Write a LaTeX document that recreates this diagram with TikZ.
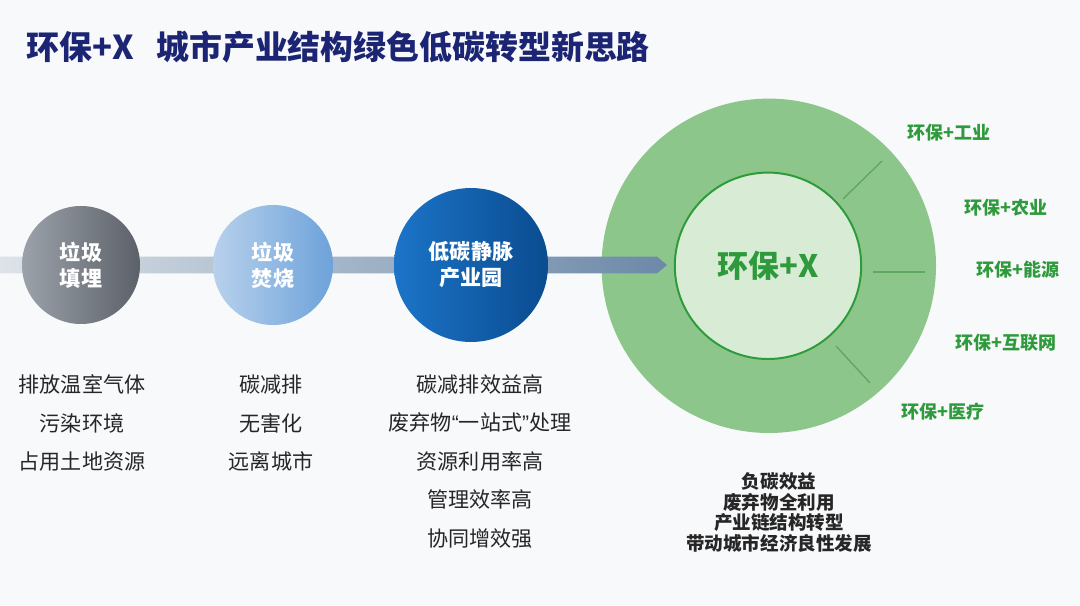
\documentclass[tikz,border=0pt]{standalone}
\usepackage{fontspec}
\setmainfont{Noto Sans CJK SC}
\newfontfamily\quotefont{Liberation Sans}
\usetikzlibrary{calc,positioning}
\definecolor{Canvas}{HTML}{F8F9FB}
\definecolor{Navy}{HTML}{1C2573}
\definecolor{Ink}{HTML}{262626}
\definecolor{LeafText}{HTML}{2E9A3C}
\definecolor{Ring}{HTML}{8DC68B}
\definecolor{Core}{HTML}{D7EBD5}
\definecolor{CoreLine}{HTML}{2E9B3A}
\definecolor{Spoke}{HTML}{5FA85F}
\definecolor{BandL}{HTML}{DDE3E9}
\definecolor{BandR}{HTML}{6C89A8}
\definecolor{GreyL}{HTML}{9CA2AA}
\definecolor{GreyR}{HTML}{5C6169}
\definecolor{SkyL}{HTML}{B8D1EC}
\definecolor{SkyR}{HTML}{6DA2DA}
\definecolor{DeepL}{HTML}{1C74C8}
\definecolor{DeepR}{HTML}{0A4C90}

\begin{document}
\begin{tikzpicture}[
  stage/.style={circle,inner sep=0pt,text=white,align=center,font=\fontsize{15}{18.5}\selectfont\bfseries},
  spoke/.style={draw=Spoke,line width=1pt},
  branch/.style={font=\fontsize{12.8}{14}\selectfont\bfseries,text=LeafText},
  notes/.style={font=\fontsize{15}{27.4}\selectfont,text=Ink,align=center},
  gains/.style={font=\fontsize{13.2}{14.6}\selectfont\bfseries,text=Ink,align=center}
]
\useasboundingbox (0,0) rectangle (27,15.125);
\fill[Canvas] (0,0) rectangle (27,15.125);
\node[anchor=west,font=\fontsize{23.4}{27}\selectfont\bfseries,text=Navy] (title) at (0.55,13.95) {环保+X\hspace{0.55cm}城市产业结构绿色低碳转型新思路};
% green hub
\node[circle,fill=Ring,minimum size=8.36cm,inner sep=0pt] (ring) at (19.22,8.48) {};
\coordinate (bandstart) at (0,8.5); \coordinate (bandtip) at (16.675,8.5);
\shade[left color=BandL,right color=BandR] ($(bandstart)+(0,-0.21)$) -- ($(bandtip)+(-0.25,-0.21)$) -- (bandtip) -- ($(bandtip)+(-0.25,0.21)$) -- ($(bandstart)+(0,0.21)$) -- cycle;
\node[stage,left color=GreyL,right color=GreyR,minimum size=2.95cm] (landfill) at (2.025,8.5) {垃圾\\填埋};
\node[stage,left color=SkyL,right color=SkyR,minimum size=3.0cm] (burn) at (6.825,8.5) {垃圾\\焚烧};
\node[stage,left color=DeepL,right color=DeepR,minimum size=3.85cm] (park) at (11.775,8.5) {低碳静脉\\产业园};
\node[circle,fill=Core,draw=CoreLine,line width=1.4pt,minimum size=4.66cm,inner sep=0pt,font=\fontsize{22}{24}\selectfont\bfseries,text=LeafText] (hub) at (19.2,8.48) {环保+X};
\coordinate (S1a) at (21.075,10.15); \coordinate (S1b) at (22.05,11.1);
\coordinate (S2a) at (21.825,8.325); \coordinate (S2b) at (23.125,8.325);
\coordinate (S3a) at (20.9,6.475); \coordinate (S3b) at (21.75,5.55);
\draw[spoke] (S1a)--(S1b); \draw[spoke] (S2a)--(S2b); \draw[spoke] (S3a)--(S3b);
\node[branch] (industry) at (23.725,11.8) {环保+工业};
\node[branch] (farming) at (25.15,9.925) {环保+农业};
\node[branch] (energy) at (25.45,8.375) {环保+能源};
\node[branch] (internet) at (25.15,6.55) {环保+互联网};
\node[branch] (medical) at (23.575,4.825) {环保+医疗};
% notes under each stage
\node[notes] (landfillnotes) at (2.05,4.54) {排放温室气体\\污染环境\\占用土地资源};
\node[notes] (burnnotes) at (6.775,4.54) {碳减排\\无害化\\远离城市};
\node[notes] (parknotes) at (12.0,3.59) {碳减排效益高\\废弃物{\quotefont “}一站式{\quotefont ”}处理\\资源利用率高\\管理效率高\\协同增效强};
\node[gains] (hubnotes) at (19.475,2.31) {负碳效益\\废弃物全利用\\产业链结构转型\\带动城市经济良性发展};
\end{tikzpicture}
\end{document}
